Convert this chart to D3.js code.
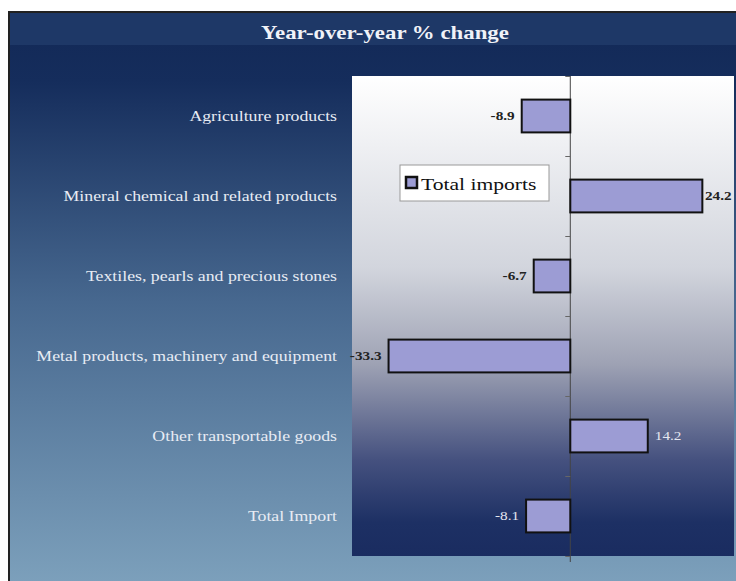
<!DOCTYPE html>
<html lang="en">
<head>
   <meta charset="UTF-8">
   <title>Year-over-year % change</title>
   <style>
      html, body {
         margin: 0;
         padding: 0;
         background: #fff;
         overflow: hidden;
      }

      text {
         font-family: 'Liberation Serif', 'DejaVu Serif', serif;
      }

      .cat-label {
         fill: #e8ecf4;
         font-size: 14px;
      }

      .value-label {
         font-size: 12px;
      }

      .bar {
         fill: #9c9cd4;
         stroke: #111;
         stroke-width: 2;
      }
   </style>
   <script src="https://cdn.jsdelivr.net/npm/d3@7"></script>
</head>
<body>
   <svg id="chart" width="736" height="581"></svg>
   <script>
      const categories = [
         'Agriculture products',
         'Mineral chemical and related products',
         'Textiles, pearls and precious stones',
         'Metal products, machinery and equipment',
         'Other transportable goods',
         'Total Import'
      ]
      const values = [-8.9, 24.2, -6.7, -33.3, 14.2, -8.1]
      const seriesName = 'Total imports'
      const xDomain = [-40, 30]

      // the original picture is stretched sideways, text too
      const STRETCH = 1.27

      const data = categories.map((c, i) => ({ category: c, value: values[i] }))

      const svg = d3.select('#chart')
      const defs = svg.append('defs')

      // backgrounds
      const bgGrad = defs.append('linearGradient')
         .attr('id', 'bg-grad')
         .attr('x1', 0).attr('y1', 0).attr('x2', 0).attr('y2', 1)
      bgGrad.append('stop').attr('offset', '0%').attr('stop-color', '#122856')
      bgGrad.append('stop').attr('offset', '12%').attr('stop-color', '#152d5c')
      bgGrad.append('stop').attr('offset', '50%').attr('stop-color', '#47688f')
      bgGrad.append('stop').attr('offset', '100%').attr('stop-color', '#7ea2bd')

      const plotGrad = defs.append('linearGradient')
         .attr('id', 'plot-grad')
         .attr('x1', 0).attr('y1', 0).attr('x2', 0).attr('y2', 1)
      plotGrad.append('stop').attr('offset', '0%').attr('stop-color', '#ffffff')
      plotGrad.append('stop').attr('offset', '40%').attr('stop-color', '#d2d5dd')
      plotGrad.append('stop').attr('offset', '60%').attr('stop-color', '#9ea2b4')
      plotGrad.append('stop').attr('offset', '80%').attr('stop-color', '#45517f')
      plotGrad.append('stop').attr('offset', '93%').attr('stop-color', '#1d3064')
      plotGrad.append('stop').attr('offset', '100%').attr('stop-color', '#1a2c60')

      svg.append('rect')
         .attr('x', 9).attr('y', 12)
         .attr('width', 736).attr('height', 581)
         .attr('fill', 'url(#bg-grad)')
         .attr('stroke', '#222')
         .attr('stroke-width', 2)

      svg.append('rect')
         .attr('x', 10).attr('y', 13)
         .attr('width', 726).attr('height', 32)
         .attr('fill', '#1e3867')

      svg.append('text')
         .attr('transform', `translate(385, 39) scale(${STRETCH}, 1)`)
         .attr('text-anchor', 'middle')
         .attr('fill', '#f0f2f8')
         .style('font-size', '18px')
         .style('font-weight', 'bold')
         .text('Year-over-year % change')

      // plot area
      const plot = { left: 352, right: 734, top: 76, bottom: 556 }

      svg.append('rect')
         .attr('x', plot.left).attr('y', plot.top)
         .attr('width', plot.right - plot.left)
         .attr('height', plot.bottom - plot.top)
         .attr('fill', 'url(#plot-grad)')

      const xScale = d3.scaleLinear()
         .domain(xDomain)
         .range([plot.left, plot.right])

      const yScale = d3.scaleBand()
         .domain(categories)
         .range([plot.top, plot.bottom])
         .paddingInner(0.59)
         .paddingOuter(0.295)

      const yPos = d3.scaleBand()
         .domain(categories)
         .range([plot.top, plot.bottom])

      // zero axis with ticks at category boundaries
      const axis = d3.axisLeft(d3.scaleLinear().domain([0, categories.length]).range([plot.top, plot.bottom]))
         .ticks(categories.length)
         .tickSize(5)
         .tickFormat('')

      const axisGroup = svg.append('g')
         .attr('transform', `translate(${xScale(0)}, 0)`)
         .call(axis)
      axisGroup.select('.domain')
         .attr('stroke', '#444')
         .attr('d', `M0,${plot.top}V${plot.bottom + 6}`)
      axisGroup.selectAll('.tick line').attr('stroke', '#666')

      // category labels
      svg.selectAll('.cat-label')
         .data(data)
         .enter()
         .append('text')
         .attr('class', 'cat-label')
         .attr('transform', d => `translate(337, ${yPos(d.category) + yPos.bandwidth() / 2}) scale(${STRETCH}, 1)`)
         .attr('dy', '0.35em')
         .attr('text-anchor', 'end')
         .text(d => d.category)

      // bars
      svg.selectAll('.bar')
         .data(data)
         .enter()
         .append('rect')
         .attr('class', 'bar')
         .attr('x', d => xScale(Math.min(0, d.value)))
         .attr('y', d => yScale(d.category))
         .attr('width', d => Math.abs(xScale(d.value) - xScale(0)))
         .attr('height', yScale.bandwidth())

      // value labels
      svg.selectAll('.value-label')
         .data(data)
         .enter()
         .append('text')
         .attr('class', 'value-label')
         .attr('transform', d => {
            const x = d.value < 0 ? xScale(d.value) - 7 : Math.min(xScale(d.value) + 7, plot.right - 29)
            const y = yScale(d.category) + yScale.bandwidth() / 2
            return `translate(${x}, ${y}) scale(${STRETCH}, 1)`
         })
         .attr('dy', '0.35em')
         .attr('text-anchor', d => d.value < 0 ? 'end' : 'start')
         .attr('fill', d => yScale(d.category) > 400 ? '#e4e6f0' : '#222')
         .style('font-weight', d => yScale(d.category) > 400 ? 'normal' : 'bold')
         .text(d => d.value)

      // legend
      const legend = svg.append('g')
         .attr('transform', 'translate(400, 165)')

      legend.append('rect')
         .attr('width', 149).attr('height', 36)
         .attr('fill', '#ffffff')
         .attr('stroke', '#999')

      legend.append('rect')
         .attr('x', 6).attr('y', 12)
         .attr('width', 11).attr('height', 11)
         .attr('fill', '#9c9cd4')
         .attr('stroke', '#111')
         .attr('stroke-width', 2.5)

      legend.append('text')
         .attr('transform', `translate(21, 25) scale(${STRETCH}, 1)`)
         .attr('fill', '#111')
         .style('font-size', '17px')
         .text(seriesName)
   </script>
</body>
</html>
